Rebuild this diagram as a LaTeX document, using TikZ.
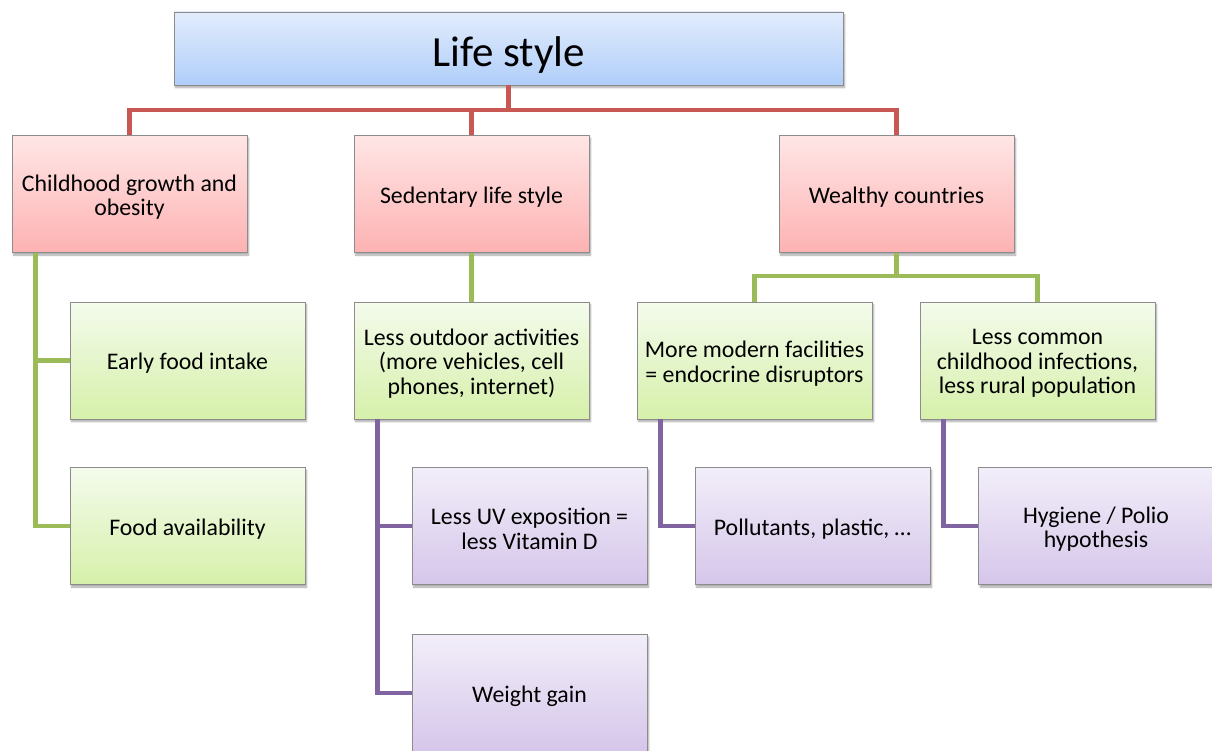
\documentclass[tikz,border=0pt]{standalone}
\usepackage{fontspec}
\setmainfont{Carlito}
\usetikzlibrary{shadows.blur}

\definecolor{edgegray}{RGB}{140,140,140}
\definecolor{redline}{RGB}{200,88,84}
\definecolor{greenline}{RGB}{155,187,89}
\definecolor{purpleline}{RGB}{128,100,162}
\definecolor{blueA}{RGB}{226,236,252}
\definecolor{blueB}{RGB}{176,206,250}
\definecolor{pinkA}{RGB}{255,230,230}
\definecolor{pinkB}{RGB}{253,178,178}
\definecolor{greenA}{RGB}{244,251,236}
\definecolor{greenB}{RGB}{214,240,170}
\definecolor{purpleA}{RGB}{242,238,249}
\definecolor{purpleB}{RGB}{213,198,234}

\tikzset{
  box/.style={draw=edgegray, line width=0.9pt, minimum width=235pt, minimum height=117pt,
    inner sep=0pt,
    blur shadow={shadow xshift=1.5pt, shadow yshift=-2.5pt, shadow blur steps=5, shadow opacity=35}},
  boxtext/.style={align=center, inner sep=0pt, yshift=-3pt, font=\fontsize{23.8}{24.6}\selectfont},
  titletext/.style={boxtext, yshift=-3.5pt, font=\fontsize{43}{50}\selectfont},
  titlebox/.style={box, minimum width=669pt, minimum height=73pt,
    top color=blueA, bottom color=blueB},
  pinkbox/.style={box, top color=pinkA, bottom color=pinkB},
  greenbox/.style={box, top color=greenA, bottom color=greenB},
  purplebox/.style={box, top color=purpleA, bottom color=purpleB},
  link/.style={line width=4.5pt},
  redlink/.style={link, draw=redline},
  greenlink/.style={link, draw=greenline},
  purplelink/.style={link, draw=purpleline},
}

% a box with its text centred a little below the middle
\newcommand\textbox[4]{\node[#1, label={[boxtext]center:{#4}}] (#2) at (#3) {};}

\begin{document}
\begin{tikzpicture}[x=1pt, y=1pt]
\useasboundingbox (0,0) rectangle (1212,-751);
\clip (0,0) rectangle (1212,-751);

% junction points of the branching connectors
\coordinate (redbus) at (508.5,-110);
\coordinate (greenbus) at (896.5,-276);

% boxes
\node[titlebox, label={[titletext]center:Life style}] (life) at (508.5,-48.5) {};

\textbox{pinkbox}{child}{129.5,-194}{Childhood growth and\\obesity}
\textbox{pinkbox}{sed}{471.5,-194}{Sedentary life style}
\textbox{pinkbox}{wealth}{896.5,-194}{Wealthy countries}

\textbox{greenbox}{early}{187.5,-360.5}{Early food intake}
\textbox{greenbox}{foodav}{187.5,-526}{Food availability}
\textbox{greenbox}{outdoor}{471.5,-360.5}{Less outdoor activities\\(more vehicles, cell\\phones, internet)}
\textbox{greenbox}{modern}{754.5,-360.5}{More modern facilities\\= endocrine disruptors}
\textbox{greenbox}{common}{1037.5,-360.5}{Less common\\childhood infections,\\less rural population}

\textbox{purplebox}{uv}{529.5,-526}{Less UV exposition =\\less Vitamin D}
\textbox{purplebox}{weight}{529.5,-693}{Weight gain}
\textbox{purplebox}{pollut}{812.5,-526}{Pollutants, plastic, …}
\textbox{purplebox}{hyg}{1096,-526}{Hygiene / Polio\\hypothesis}

% connectors
\draw[redlink] (life.south) -- (redbus);
\draw[redlink] (redbus) -| (child.north);
\draw[redlink] (redbus) -| (sed.north);
\draw[redlink] (redbus) -| (wealth.north);

\draw[greenlink] ([xshift=24pt]child.south west) |- (early.west);
\draw[greenlink] ([xshift=24pt]child.south west) |- (foodav.west);
\draw[greenlink] (sed.south) -- (outdoor.north);
\draw[greenlink] (wealth.south) -- (greenbus);
\draw[greenlink] (greenbus) -| (modern.north);
\draw[greenlink] (greenbus) -| (common.north);

\draw[purplelink] ([xshift=24pt]outdoor.south west) |- (uv.west);
\draw[purplelink] ([xshift=24pt]outdoor.south west) |- (weight.west);
\draw[purplelink] ([xshift=24pt]modern.south west) |- (pollut.west);
\draw[purplelink] ([xshift=24pt]common.south west) |- (hyg.west);
\end{tikzpicture}
\end{document}
